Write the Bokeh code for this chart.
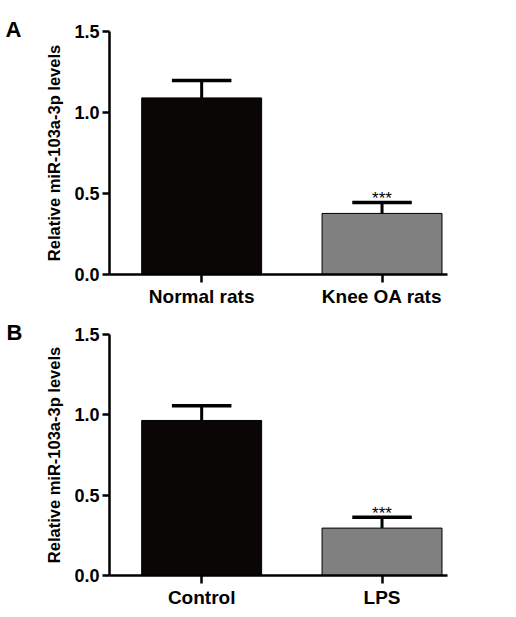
from bokeh.plotting import figure
from bokeh.layouts import column
from bokeh.models import Range1d, FixedTicker, ColumnDataSource, NumeralTickFormatter
from bokeh.core.properties import value
from bokeh.embed import file_html
from bokeh.resources import INLINE

# ---- data ----
groups_a = ["Normal rats", "Knee OA rats"]
means_a = [1.09, 0.377]
errs_a = [0.107, 0.067]
sig_a = ["", "***"]

groups_b = ["Control", "LPS"]
means_b = [0.965, 0.295]
errs_b = [0.092, 0.068]
sig_b = ["", "***"]

bar_colors = ["#0a0605", "#808080"]
y_ticks = [0.0, 0.5, 1.0, 1.5]
y_label = "Relative miR-103a-3p levels"
FONT = "Liberation Sans"


def make_panel(letter, groups, means, errs, sig, height, bl, br, bt, bb, loff):
    xs = list(range(len(groups)))
    tops = [m + e for m, e in zip(means, errs)]
    p = figure(width=500, height=height,
               x_range=Range1d(-0.511, 1.363), y_range=Range1d(0, 1.5),
               output_backend="svg", toolbar_location=None,
               min_border_left=bl, min_border_right=br,
               min_border_top=bt, min_border_bottom=bb)
    p.outline_line_color = None
    p.xgrid.visible = False
    p.ygrid.visible = False
    p.background_fill_color = "white"
    p.border_fill_color = "white"

    # panel letter as the plot title, pushed to the left edge
    p.title.text = letter
    p.title.align = "left"
    p.title.offset = loff
    p.title.standoff = -20
    p.title.text_font = FONT
    p.title.text_font_style = "bold"
    p.title.text_font_size = "22px"
    p.title.text_color = "black"

    src = ColumnDataSource(dict(x=xs, m=means, t=tops, c=bar_colors,
                                x0=[x - 0.165 for x in xs], x1=[x + 0.165 for x in xs],
                                s=sig))
    # error bars (upper only)
    p.segment(x0="x", y0="m", x1="x", y1="t", source=src, line_color="black", line_width=3)
    p.segment(x0="x0", y0="t", x1="x1", y1="t", source=src, line_color="black", line_width=3.5)
    p.vbar(x="x", top="m", bottom=0, width=0.665, source=src,
           fill_color="c", line_color="black", line_width=1)
    p.text(x="x", y="t", text="s", source=src, text_align="center",
           text_baseline="alphabetic", y_offset=-4, text_font_size="17px",
           text_font=value(FONT), text_color="black")

    # y axis
    ya = p.yaxis[0]
    ya.ticker = FixedTicker(ticks=y_ticks)
    ya.formatter = NumeralTickFormatter(format="0.0")
    ya.axis_label = y_label
    ya.axis_label_text_font = FONT
    ya.axis_label_text_font_style = "bold"
    ya.axis_label_text_font_size = "16.5px"
    ya.axis_label_text_color = "black"
    ya.axis_label_standoff = 8
    ya.major_label_text_font = FONT
    ya.major_label_text_font_style = "bold"
    ya.major_label_text_font_size = "18px"
    ya.major_label_text_color = "black"
    ya.major_label_standoff = 3
    ya.axis_line_width = 2.5
    ya.major_tick_line_width = 2.5
    ya.major_tick_out = 7
    ya.major_tick_in = 0
    ya.minor_tick_line_color = None

    # x axis
    xa = p.xaxis[0]
    xa.ticker = FixedTicker(ticks=xs)
    xa.major_label_overrides = {x: g for x, g in zip(xs, groups)}
    xa.major_label_text_font = FONT
    xa.major_label_text_font_style = "bold"
    xa.major_label_text_font_size = "19px"
    xa.major_label_text_color = "black"
    xa.major_label_standoff = 3
    xa.axis_line_width = 2.5
    xa.major_tick_line_width = 2.5
    xa.major_tick_out = 8
    xa.major_tick_in = 0
    xa.minor_tick_line_color = None
    return p


pa = make_panel("A", groups_a, means_a, errs_a, sig_a, 310, 106, 53, 31, 36, -104)
pb = make_panel("B", groups_b, means_b, errs_b, sig_b, 300, 109, 50, 24, 32, -103)

layout = column(pa, pb, spacing=0)
open("out.html", "w").write(file_html(layout, INLINE))
